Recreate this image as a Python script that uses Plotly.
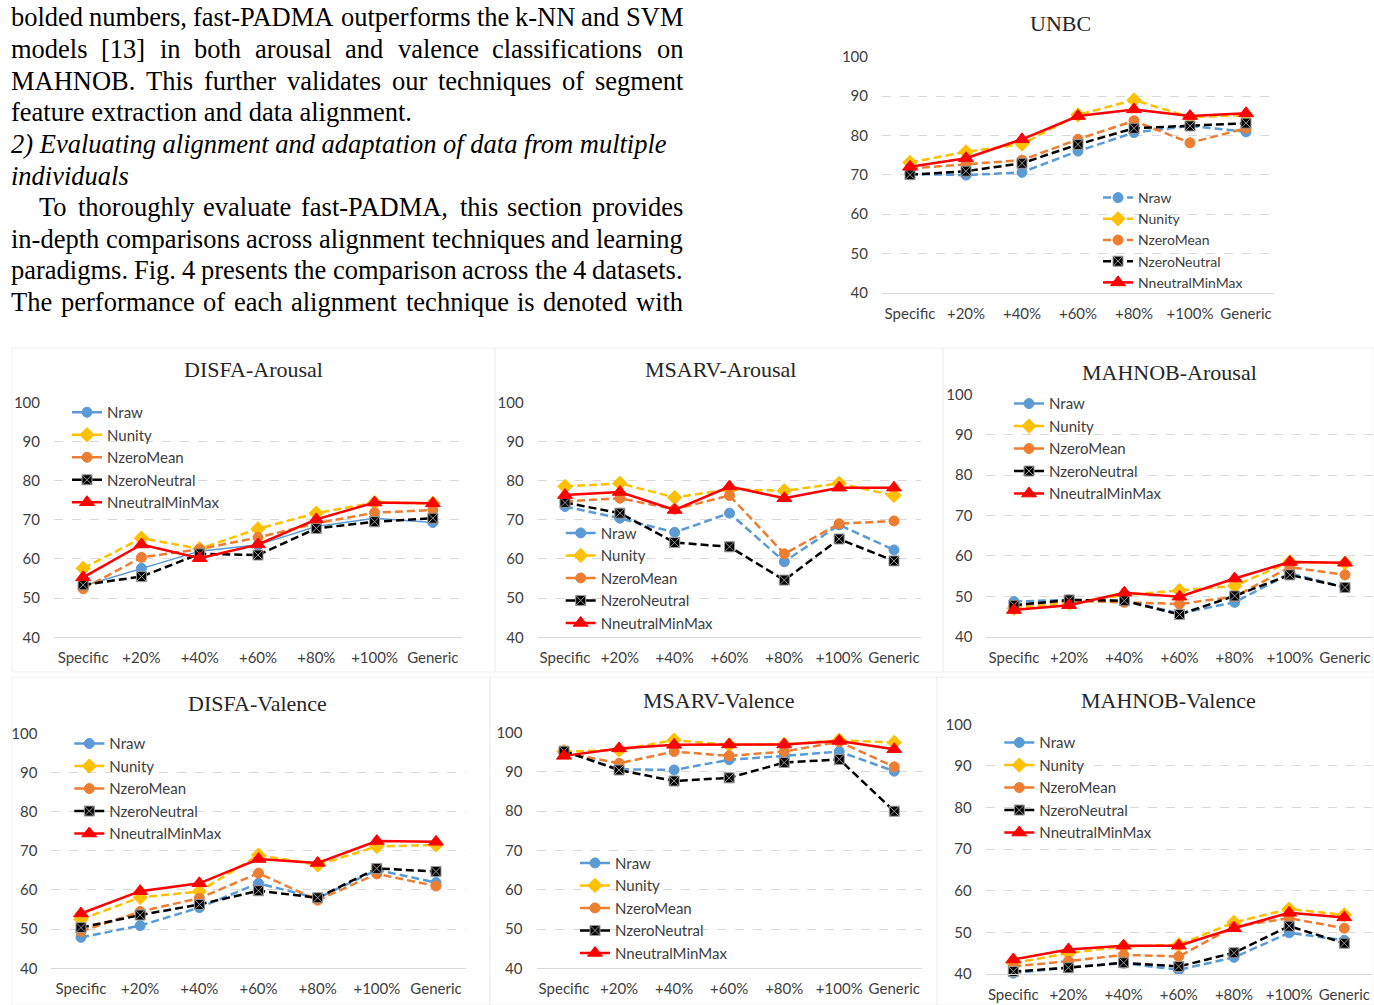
import plotly.graph_objects as go

# ---------------- data ----------------
CATEGORIES = ["Specific", "+20%", "+40%", "+60%", "+80%", "+100%", "Generic"]
SERIES = ["Nraw", "Nunity", "NzeroMean", "NzeroNeutral", "NneutralMinMax"]
Y_TICKS = [40, 50, 60, 70, 80, 90, 100]

UNBC_NRAW = [70.2, 69.9, 70.6, 76.0, 80.7, 82.4, 80.9]
UNBC_NUNITY = [73.1, 75.8, 77.8, 85.2, 89.0, 84.6, 85.2]
UNBC_NZEROMEAN = [71.6, 72.7, 73.7, 79.0, 83.7, 78.1, 81.8]
UNBC_NZERONEUTRAL = [70.0, 70.9, 72.9, 77.7, 81.8, 82.4, 83.1]
UNBC_NNEUTRALMINMAX = [72.0, 74.2, 79.0, 84.9, 86.6, 84.9, 85.6]

DISFA_A_NRAW = [53.1, 57.6, 62.0, 63.6, 68.3, 70.4, 69.3]
DISFA_A_NUNITY = [57.6, 65.3, 62.6, 67.7, 71.7, 74.4, 74.2]
DISFA_A_NZEROMEAN = [52.4, 60.4, 62.5, 65.5, 69.1, 71.8, 72.5]
DISFA_A_NZERONEUTRAL = [53.4, 55.5, 61.3, 61.0, 67.8, 69.5, 70.4]
DISFA_A_NNEUTRALMINMAX = [55.3, 63.7, 60.2, 63.7, 70.1, 74.4, 74.2]

MSARV_A_NRAW = [73.4, 70.4, 66.8, 71.7, 59.3, 68.7, 62.3]
MSARV_A_NUNITY = [78.5, 79.3, 75.7, 77.8, 77.4, 79.3, 76.2]
MSARV_A_NZEROMEAN = [74.7, 75.5, 72.7, 76.2, 61.3, 69.0, 69.7]
MSARV_A_NZERONEUTRAL = [74.4, 71.7, 64.2, 63.1, 54.6, 65.1, 59.5]
MSARV_A_NNEUTRALMINMAX = [76.3, 77.1, 72.5, 78.5, 75.5, 78.2, 78.2]

MAHNOB_A_NRAW = [48.7, 49.1, 48.9, 45.8, 48.5, 55.7, 52.2]
MAHNOB_A_NUNITY = [47.0, 48.3, 50.3, 51.4, 52.6, 58.5, 58.2]
MAHNOB_A_NZEROMEAN = [47.6, 48.9, 48.5, 48.1, 49.9, 57.2, 55.3]
MAHNOB_A_NZERONEUTRAL = [47.8, 49.1, 48.9, 45.5, 50.1, 55.3, 52.2]
MAHNOB_A_NNEUTRALMINMAX = [46.6, 47.8, 50.9, 49.9, 54.4, 58.5, 58.3]

DISFA_V_NRAW = [47.9, 50.9, 55.5, 61.7, 57.9, 65.1, 61.9]
DISFA_V_NUNITY = [52.5, 58.1, 59.6, 68.9, 66.4, 71.1, 71.5]
DISFA_V_NZEROMEAN = [49.4, 54.5, 57.9, 64.3, 57.4, 64.1, 61.0]
DISFA_V_NZERONEUTRAL = [50.4, 53.6, 56.3, 59.8, 58.0, 65.5, 64.7]
DISFA_V_NNEUTRALMINMAX = [54.0, 59.7, 61.7, 67.9, 66.9, 72.5, 72.3]

MSARV_V_NRAW = [95.3, 90.7, 90.5, 93.1, 94.1, 95.2, 90.2]
MSARV_V_NUNITY = [95.2, 95.6, 98.1, 96.9, 97.0, 98.1, 97.5]
MSARV_V_NZEROMEAN = [94.9, 92.2, 95.2, 94.1, 95.2, 97.7, 91.3]
MSARV_V_NZERONEUTRAL = [95.3, 90.5, 87.7, 88.5, 92.4, 93.2, 80.0]
MSARV_V_NNEUTRALMINMAX = [94.1, 96.0, 96.9, 97.0, 97.0, 97.9, 95.8]

MAHNOB_V_NRAW = [40.2, 41.6, 42.6, 41.0, 44.0, 49.9, 48.1]
MAHNOB_V_NUNITY = [42.6, 45.0, 46.6, 47.0, 52.4, 55.6, 54.2]
MAHNOB_V_NZEROMEAN = [41.8, 43.1, 44.6, 44.2, 51.4, 53.4, 51.0]
MAHNOB_V_NZERONEUTRAL = [40.6, 41.5, 42.7, 41.8, 45.1, 51.5, 47.4]
MAHNOB_V_NNEUTRALMINMAX = [43.5, 45.9, 46.8, 46.8, 51.0, 54.7, 53.6]

PARAGRAPH = [
    ("bolded numbers, fast-PADMA outperforms the k-NN and SVM", "justify", False),
    ("models [13] in both arousal and valence classifications on", "justify", False),
    ("MAHNOB. This further validates our techniques of segment", "justify", False),
    ("feature extraction and data alignment.", "left", False),
    ("2) Evaluating alignment and adaptation of data from multiple", "left", True),
    ("individuals", "left", True),
    ("To thoroughly evaluate fast-PADMA, this section provides", "justify_indent", False),
    ("in-depth comparisons across alignment techniques and learning", "justify", False),
    ("paradigms. Fig. 4 presents the comparison across the 4 datasets.", "justify", False),
    ("The performance of each alignment technique is denoted with", "justify", False),
]

# ---------------- layout / style ----------------
W, H = 1374, 1005
PANELS = [
    dict(title="UNBC", data=[UNBC_NRAW, UNBC_NUNITY, UNBC_NZEROMEAN, UNBC_NZERONEUTRAL, UNBC_NNEUTRALMINMAX],
         box=(882, 1274, 56.7, 292.7), title_xy=(1060, 23), leg=(1138, 198), legfs=14, raw_solid=False,
         solid_legend=False),
    dict(title="DISFA-Arousal", data=[DISFA_A_NRAW, DISFA_A_NUNITY, DISFA_A_NZEROMEAN, DISFA_A_NZERONEUTRAL, DISFA_A_NNEUTRALMINMAX],
         box=(54, 462, 402.3, 637.3), title_xy=(253, 369), leg=(107, 412), legfs=15, raw_solid=True,
         solid_legend=True),
    dict(title="MSARV-Arousal", data=[MSARV_A_NRAW, MSARV_A_NUNITY, MSARV_A_NZEROMEAN, MSARV_A_NZERONEUTRAL, MSARV_A_NNEUTRALMINMAX],
         box=(537.6, 921.4, 402.3, 637.3), title_xy=(720, 369), leg=(600.7, 532.7), legfs=15, raw_solid=False,
         solid_legend=True),
    dict(title="MAHNOB-Arousal", data=[MAHNOB_A_NRAW, MAHNOB_A_NUNITY, MAHNOB_A_NZEROMEAN, MAHNOB_A_NZERONEUTRAL, MAHNOB_A_NNEUTRALMINMAX],
         box=(986.4, 1372.6, 394.3, 636.7), title_xy=(1169, 372.7), leg=(1049, 403.3), legfs=15, raw_solid=False,
         solid_legend=True),
    dict(title="DISFA-Valence", data=[DISFA_V_NRAW, DISFA_V_NUNITY, DISFA_V_NZEROMEAN, DISFA_V_NZERONEUTRAL, DISFA_V_NNEUTRALMINMAX],
         box=(51.4, 465.6, 733.3, 968.3), title_xy=(257, 703.3), leg=(109.3, 743.3), legfs=15, raw_solid=False,
         solid_legend=True),
    dict(title="MSARV-Valence", data=[MSARV_V_NRAW, MSARV_V_NUNITY, MSARV_V_NZEROMEAN, MSARV_V_NZERONEUTRAL, MSARV_V_NNEUTRALMINMAX],
         box=(536.5, 921.8, 732.7, 968.3), title_xy=(718, 700), leg=(615, 862.7), legfs=15, raw_solid=False,
         solid_legend=True),
    dict(title="MAHNOB-Valence", data=[MAHNOB_V_NRAW, MAHNOB_V_NUNITY, MAHNOB_V_NZEROMEAN, MAHNOB_V_NZERONEUTRAL, MAHNOB_V_NNEUTRALMINMAX],
         box=(985.7, 1371.9, 724.3, 974), title_xy=(1168, 700), leg=(1039.3, 742.3), legfs=15, raw_solid=False,
         solid_legend=True),
]

DASH = "8px,4px"
STYLES = {
    "Nraw": dict(color="#5B9BD5", symbol="circle", size=10, dash=DASH, mline="#5B9BD5"),
    "Nunity": dict(color="#FFC000", symbol="diamond", size=11, dash=DASH, mline="#FFC000"),
    "NzeroMean": dict(color="#ED7D31", symbol="circle", size=10, dash=DASH, mline="#ED7D31"),
    "NzeroNeutral": dict(color="#000000", symbol="square-x", size=10, dash=DASH, mline="#9A9A9A"),
    "NneutralMinMax": dict(color="#FF0000", symbol="triangle-up", size=13, dash="solid", mline="#FF0000"),
}

TICK_FONT = dict(family="Lato, Carlito, Calibri, sans-serif", size=15, color="#404040")
SERIF = "Liberation Serif, Times New Roman, serif"


def px_x(x):
    return x / W


def px_y(y):
    return 1 - y / H


fig = go.Figure()
layout_axes = {}
legends = {}
annotations = []

for i, p in enumerate(PANELS):
    n = i + 1
    xa = "x" if n == 1 else f"x{n}"
    ya = "y" if n == 1 else f"y{n}"
    lg = "legend" if n == 1 else f"legend{n}"
    x0, x1, y0, y1 = p["box"]
    for s, vals in zip(SERIES, p["data"]):
        st = STYLES[s]
        dash = st["dash"]
        width = 2.5
        if s == "Nraw" and p["raw_solid"]:
            dash = "solid"
            width = 1.5
        marker = dict(symbol=st["symbol"], size=st["size"], color=st["color"],
                      line=dict(color=st["mline"], width=1))
        fig.add_trace(go.Scatter(
            x=CATEGORIES, y=vals, name=s, mode="lines+markers",
            xaxis=xa, yaxis=ya, legend=lg, cliponaxis=False,
            showlegend=not p["solid_legend"],
            line=dict(color=st["color"], width=width, dash=dash),
            marker=marker,
        ))
        if p["solid_legend"]:
            # legend entry drawn Excel-style with a solid line
            fig.add_trace(go.Scatter(
                x=[None], y=[None], name=s, mode="lines+markers",
                xaxis=xa, yaxis=ya, legend=lg, showlegend=True, hoverinfo="skip",
                line=dict(color=st["color"], width=2.5, dash="solid"),
                marker=marker,
            ))
    xkey = "xaxis" if n == 1 else f"xaxis{n}"
    ykey = "yaxis" if n == 1 else f"yaxis{n}"
    layout_axes[xkey] = dict(
        domain=[px_x(x0), px_x(x1)], anchor=ya, type="category",
        categoryorder="array", categoryarray=CATEGORIES, range=[-0.5, 6.5],
        showgrid=False, showline=True, linecolor="#D9D9D9", linewidth=1,
        ticks="", tickfont=TICK_FONT, ticklabelstandoff=7, zeroline=False,
        fixedrange=True, automargin=False,
    )
    layout_axes[ykey] = dict(
        domain=[px_y(y1), px_y(y0)], anchor=xa, range=[40, 100],
        tickvals=Y_TICKS, showgrid=True, gridcolor="#D9D9D9", griddash="dash",
        gridwidth=1, showline=False, zeroline=False, ticks="", tickfont=TICK_FONT,
        ticklabelstandoff=13, fixedrange=True, automargin=False,
    )
    tx, ty = p["leg"]
    legends[lg] = dict(
        x=px_x(tx - 40), y=px_y(ty - 16), xanchor="left", yanchor="top",
        bgcolor="rgba(0,0,0,0)", borderwidth=0, traceorder="normal",
        font=dict(family="Lato, Carlito, Calibri, sans-serif", size=p["legfs"], color="#404040"),
        itemwidth=30,
    )
    annotations.append(dict(
        text=p["title"], x=px_x(p["title_xy"][0]), y=px_y(p["title_xy"][1]),
        xref="paper", yref="paper", xanchor="center", yanchor="middle",
        showarrow=False, font=dict(family=SERIF, size=22, color="#262626"),
    ))

# ---------------- paragraph text (Times metrics for justification) ----------------
TIMES_W = {
    " ": 250, "!": 333, ",": 250, "-": 333, ".": 250, "(": 333, ")": 333, "[": 333, "]": 333,
    "0": 500, "1": 500, "2": 500, "3": 500, "4": 500, "5": 500, "6": 500, "7": 500, "8": 500, "9": 500,
    "A": 722, "B": 667, "C": 667, "D": 722, "E": 611, "F": 556, "G": 722, "H": 722, "I": 333,
    "J": 389, "K": 722, "L": 611, "M": 889, "N": 722, "O": 722, "P": 556, "Q": 722, "R": 667,
    "S": 556, "T": 611, "U": 722, "V": 722, "W": 944, "X": 722, "Y": 722, "Z": 611,
    "a": 444, "b": 500, "c": 444, "d": 500, "e": 444, "f": 333, "g": 500, "h": 500, "i": 278,
    "j": 278, "k": 500, "l": 278, "m": 778, "n": 500, "o": 500, "p": 500, "q": 500, "r": 333,
    "s": 389, "t": 278, "u": 500, "v": 500, "w": 722, "x": 500, "y": 500, "z": 444,
}
PFS = 26.5
LEFT, RIGHT, INDENT = 10, 682, 38
LINE_Y = [17, 49, 81, 112, 144, 176, 207, 239, 270, 302]


def tw(s):
    return sum(TIMES_W.get(c, 500) for c in s) / 1000 * PFS


for (line, mode, ital), ly in zip(PARAGRAPH, LINE_Y):
    pfont = dict(family=SERIF, size=PFS, color="#000000")
    if mode == "left":
        txt = f"<i>{line}</i>" if ital else line
        annotations.append(dict(text=txt, x=px_x(LEFT - 1), y=px_y(ly), xref="paper", yref="paper",
                                xanchor="left", yanchor="middle", showarrow=False, font=pfont))
        continue
    start = INDENT if mode == "justify_indent" else LEFT
    words = line.split()
    total = sum(tw(w) for w in words)
    gap = (RIGHT - start - total) / (len(words) - 1)
    cx = start
    for wd in words:
        annotations.append(dict(text=wd, x=px_x(cx - 1), y=px_y(ly), xref="paper", yref="paper",
                                xanchor="left", yanchor="middle", showarrow=False, font=pfont))
        cx += tw(wd) + gap

# faint chart-area frames
shapes = []
for (a, b, c, d) in [(12, 495, 348, 672), (495, 943, 348, 672), (943, 1374, 348, 672),
                     (12, 490, 677, 1005), (490, 937, 677, 1005), (937, 1374, 677, 1005)]:
    shapes.append(dict(type="rect", xref="paper", yref="paper", x0=px_x(a), x1=px_x(b),
                       y0=px_y(d), y1=px_y(c), line=dict(color="#F0F0F0", width=1), layer="below"))

fig.update_layout(
    width=W, height=H, margin=dict(l=0, r=0, t=0, b=0, pad=0, autoexpand=False),
    paper_bgcolor="white", plot_bgcolor="white",
    showlegend=True, annotations=annotations, shapes=shapes,
    **layout_axes, **legends,
)

fig.write_html(
    "out.html",
    config={"displayModeBar": False},
    post_script="document.body.style.margin='0';document.body.style.padding='0';document.body.style.overflow='hidden';",
)
